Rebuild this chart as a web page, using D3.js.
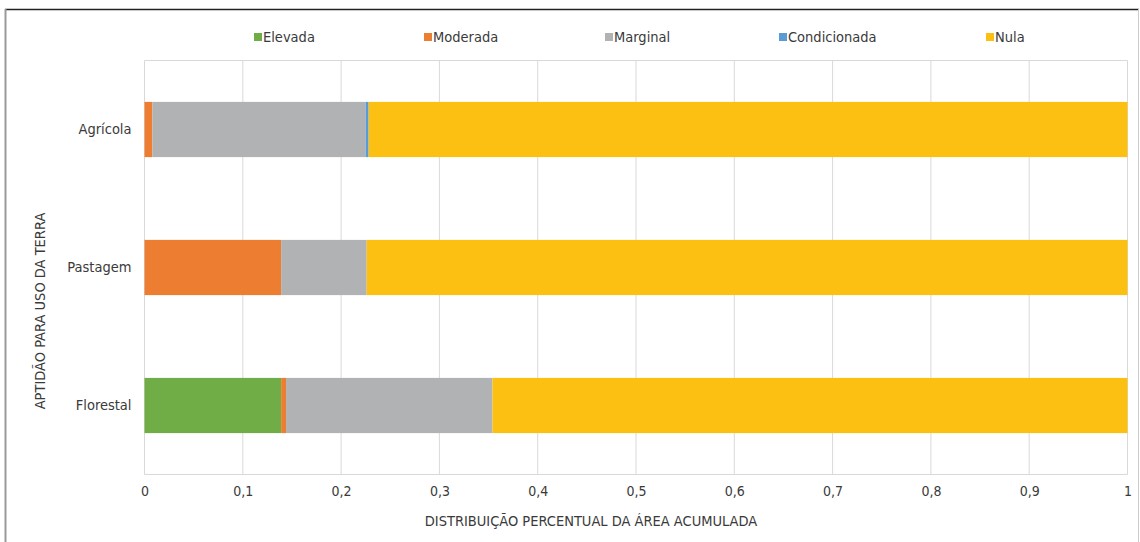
<!DOCTYPE html>
<html>
<head>
<meta charset="utf-8">
<script src="https://cdn.jsdelivr.net/npm/d3@7"></script>
<style>
  html, body { margin: 0; padding: 0; background: #fff; }
  svg { display: block; font-family: "DejaVu Sans Condensed", "DejaVu Sans", sans-serif; }
</style>
</head>
<body>
<svg id="chart" width="1140" height="542"></svg>
<script>
// Land-use aptitude classes (stack order, left to right)
const classes = ["Elevada", "Moderada", "Marginal", "Condicionada", "Nula"];
const classColors = ["#70ad47", "#ed7d31", "#b1b2b4", "#5b9bd5", "#fcc013"];

// Categories from top to bottom
const categories = ["Agrícola", "Pastagem", "Florestal"];

// Share of accumulated area per class, one array per class
const elevada      = [0.000, 0.000, 0.139];
const moderada     = [0.008, 0.139, 0.005];
const marginal     = [0.217, 0.087, 0.210];
const condicionada = [0.003, 0.000, 0.000];
const nula         = [0.772, 0.774, 0.646];

const xTicks = [0, 0.1, 0.2, 0.3, 0.4, 0.5, 0.6, 0.7, 0.8, 0.9, 1];

const rows = categories.map((c, i) => ({
  cat: c,
  Elevada: elevada[i],
  Moderada: moderada[i],
  Marginal: marginal[i],
  Condicionada: condicionada[i],
  Nula: nula[i]
}));

const svg = d3.select("#chart");
const H = 542;
const plot = { left: 144.5, right: 1127.5, top: 60.5, bottom: 474.5 };
const textColor = "#3a3a3a";

// outer frame
svg.append("line").attr("x1", 5).attr("x2", 1139).attr("y1", 9.5).attr("y2", 9.5)
  .attr("stroke", "#222").attr("stroke-width", 1.5);
svg.append("line").attr("x1", 5.5).attr("x2", 5.5).attr("y1", 9).attr("y2", H)
  .attr("stroke", "#999").attr("stroke-width", 2);
svg.append("line").attr("x1", 1138.5).attr("x2", 1138.5).attr("y1", 9).attr("y2", H)
  .attr("stroke", "#ccc").attr("stroke-width", 1);

const x = d3.scaleLinear().domain([0, 1]).range([plot.left, plot.right]);
const y = d3.scaleBand().domain(categories).range([plot.top, plot.bottom])
  .paddingInner(0.6).paddingOuter(0.3);

// gridlines and plot border
svg.append("g").selectAll("line").data(xTicks).join("line")
  .attr("x1", d => x(d)).attr("x2", d => x(d))
  .attr("y1", plot.top).attr("y2", plot.bottom)
  .attr("stroke", "#d9d9d9").attr("stroke-width", 1);
svg.append("line").attr("x1", plot.left).attr("x2", plot.right)
  .attr("y1", plot.top).attr("y2", plot.top).attr("stroke", "#d9d9d9");
svg.append("line").attr("x1", plot.left).attr("x2", plot.right)
  .attr("y1", plot.bottom).attr("y2", plot.bottom).attr("stroke", "#d9d9d9");

// stacked bars
const series = d3.stack().keys(classes)(rows);
const color = d3.scaleOrdinal().domain(classes).range(classColors);
svg.append("g").selectAll("g").data(series).join("g")
  .attr("fill", d => color(d.key))
  .selectAll("rect").data(d => d).join("rect")
  .attr("x", d => x(d[0]))
  .attr("width", d => Math.max(0, x(d[1]) - x(d[0])))
  .attr("y", d => y(d.data.cat))
  .attr("height", y.bandwidth());

// x axis labels
const xAxis = d3.axisBottom(x).tickValues(xTicks)
  .tickFormat(d => d3.format("~g")(d).replace(".", ","))
  .tickSize(0).tickPadding(12);
const gx = svg.append("g").attr("transform", `translate(0,${plot.bottom})`).call(xAxis);
gx.select(".domain").remove();
gx.selectAll("text").attr("fill", textColor).style("font-size", "14px")
  .style("font-family", "'DejaVu Sans Condensed', sans-serif");

// y axis labels
const yAxis = d3.axisLeft(y).tickSize(0).tickPadding(13);
const gy = svg.append("g").attr("transform", `translate(${plot.left},0)`).call(yAxis);
gy.select(".domain").remove();
gy.selectAll("text").attr("fill", textColor).style("font-size", "14.5px")
  .style("font-family", "'DejaVu Sans Condensed', sans-serif");

// axis titles
svg.append("text").attr("x", 591).attr("y", 526).attr("text-anchor", "middle")
  .attr("fill", textColor).style("font-size", "14.5px")
  .text("DISTRIBUIÇÃO PERCENTUAL DA ÁREA ACUMULADA");
svg.append("text").attr("transform", "translate(45,311) rotate(-90)")
  .attr("text-anchor", "middle").attr("fill", textColor).style("font-size", "14.5px")
  .text("APTIDÃO PARA USO DA TERRA");

// legend
const legendX = [254, 424, 605, 779, 986];
const lg = svg.append("g").selectAll("g").data(classes).join("g")
  .attr("transform", (d, i) => `translate(${legendX[i]},37)`);
lg.append("rect").attr("x", 0).attr("y", -4).attr("width", 8).attr("height", 8)
  .attr("fill", d => color(d));
lg.append("text").attr("x", 9).attr("y", 0).attr("dy", "0.35em")
  .attr("fill", textColor).style("font-size", "14.5px").text(d => d);
</script>
</body>
</html>
